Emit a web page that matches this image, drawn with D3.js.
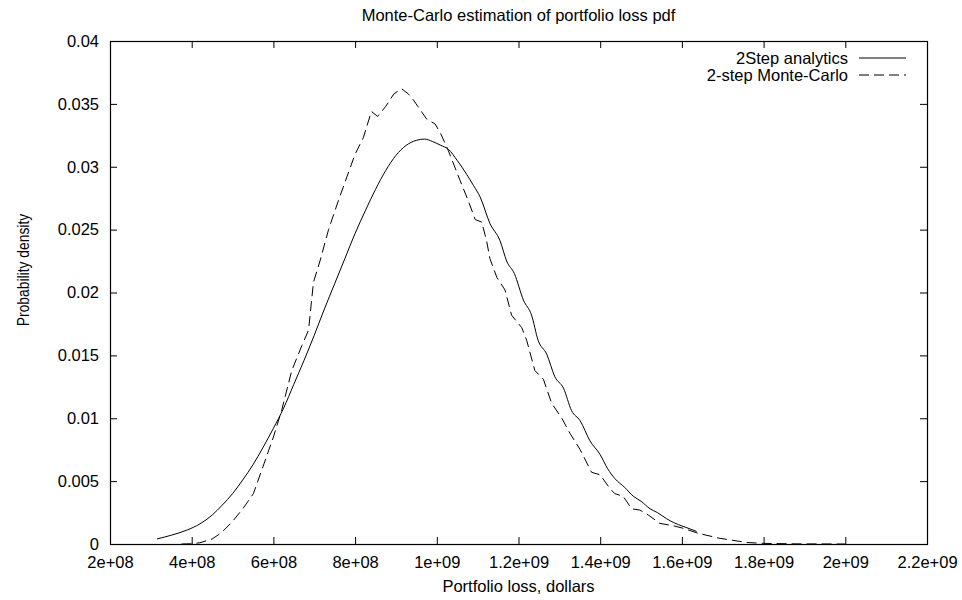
<!DOCTYPE html>
<html>
<head>
<meta charset="utf-8">
<script src="https://cdn.jsdelivr.net/npm/d3@7"></script>
<style>
  html, body { margin: 0; padding: 0; background: #fff; }
  svg { display: block; font-family: "Liberation Sans", Arial, Helvetica, sans-serif; }
</style>
</head>
<body>
<svg id="chart" width="962" height="600"></svg>
<script>
// ---- data ----
const analyticX = [3.15e8, 3.5e8, 3.88e8, 4.2e8, 4.5e8, 4.75e8, 5.0e8, 5.25e8, 5.5e8, 5.75e8, 6.0e8, 6.25e8, 6.5e8, 6.75e8, 7.0e8, 7.25e8, 7.5e8, 7.75e8, 8.0e8, 8.25e8, 8.5e8, 8.75e8, 9.0e8, 9.25e8, 9.5e8, 9.7e8, 9.9e8, 1.01e9, 1.028e9, 1.05e9, 1.073e9, 1.09e9, 1.106e9, 1.13e9, 1.155e9, 1.171e9, 1.19e9, 1.212e9, 1.232e9, 1.248e9, 1.269e9, 1.289e9, 1.31e9, 1.33e9, 1.351e9, 1.375e9, 1.4e9, 1.418e9, 1.436e9, 1.46e9, 1.481e9, 1.5e9, 1.522e9, 1.54e9, 1.563e9, 1.58e9, 1.603e9, 1.62e9, 1.636e9];
const analyticY = [0.0004, 0.0007, 0.0011, 0.0016, 0.0023, 0.0031, 0.0040, 0.0051, 0.0063, 0.0077, 0.0092, 0.0108, 0.0127, 0.0146, 0.0166, 0.0187, 0.0207, 0.0227, 0.0247, 0.0265, 0.0282, 0.0297, 0.0309, 0.0317, 0.0321, 0.0322, 0.0320, 0.0317, 0.0314, 0.0305, 0.0294, 0.0285, 0.0276, 0.0255, 0.0241, 0.0225, 0.0215, 0.0194, 0.0182, 0.0162, 0.0151, 0.0133, 0.0124, 0.0106, 0.0098, 0.0082, 0.0071, 0.0060, 0.0052, 0.0045, 0.0038, 0.0034, 0.0028, 0.0025, 0.0020, 0.0017, 0.0014, 0.0012, 0.0010];

const mcX = [3.75e8, 4.0e8, 4.2e8, 4.5e8, 4.73e8, 5.0e8, 5.25e8, 5.51e8, 5.75e8, 6.0e8, 6.2e8, 6.45e8, 6.7e8, 6.86e8, 6.98e8, 7.14e8, 7.35e8, 7.59e8, 7.8e8, 8.0e8, 8.2e8, 8.4e8, 8.55e8, 8.75e8, 8.95e8, 9.14e8, 9.3e8, 9.43e8, 9.6e8, 9.75e8, 9.96e8, 1.01e9, 1.028e9, 1.045e9, 1.057e9, 1.077e9, 1.094e9, 1.11e9, 1.122e9, 1.13e9, 1.147e9, 1.167e9, 1.183e9, 1.208e9, 1.22e9, 1.24e9, 1.261e9, 1.281e9, 1.306e9, 1.326e9, 1.351e9, 1.379e9, 1.4e9, 1.424e9, 1.436e9, 1.456e9, 1.477e9, 1.497e9, 1.518e9, 1.546e9, 1.579e9, 1.603e9, 1.64e9, 1.693e9, 1.759e9, 1.8e9, 1.88e9, 2.0e9];
const mcY = [0.0, 0.00002, 0.0001, 0.0004, 0.0009, 0.0018, 0.0028, 0.0040, 0.0062, 0.0085, 0.0106, 0.0138, 0.0158, 0.0170, 0.0208, 0.0225, 0.0250, 0.0273, 0.0292, 0.0310, 0.0323, 0.0344, 0.0340, 0.0348, 0.0358, 0.0362, 0.0358, 0.0353, 0.0345, 0.0338, 0.0334, 0.0326, 0.0313, 0.0299, 0.0289, 0.0273, 0.0258, 0.0256, 0.0241, 0.0227, 0.0212, 0.0202, 0.0182, 0.0172, 0.0162, 0.0138, 0.0131, 0.0112, 0.0100, 0.0088, 0.0075, 0.0057, 0.0055, 0.0044, 0.0040, 0.0038, 0.0028, 0.0027, 0.0023, 0.00164, 0.00145, 0.00125, 0.00085, 0.00045, 0.00012, 0.00005, 0.00001, 0.0];

const xTickValues = [2e8, 4e8, 6e8, 8e8, 1e9, 1.2e9, 1.4e9, 1.6e9, 1.8e9, 2e9, 2.2e9];
const xTickLabels = ["2e+08", "4e+08", "6e+08", "8e+08", "1e+09", "1.2e+09", "1.4e+09", "1.6e+09", "1.8e+09", "2e+09", "2.2e+09"];
const yTickValues = [0, 0.005, 0.01, 0.015, 0.02, 0.025, 0.03, 0.035, 0.04];
const yTickLabels = ["0", "0.005", "0.01", "0.015", "0.02", "0.025", "0.03", "0.035", "0.04"];

const seriesNames = ["2Step analytics", "2-step Monte-Carlo"];
const titleText = "Monte-Carlo estimation of portfolio loss pdf";
const xLabelText = "Portfolio loss, dollars";
const yLabelText = "Probability density";

// ---- layout ----
const L = 110, R = 927, T = 41, B = 544;
const FS = 16.5;
const DASH = "10,5";
const svg = d3.select("#chart");

const x = d3.scaleLinear().domain([2e8, 2.2e9]).range([L, R]);
const y = d3.scaleLinear().domain([0, 0.04]).range([B, T]);

// axes (ticks inward, mirrored)
const fmtX = (d) => xTickLabels[xTickValues.indexOf(d)];
const fmtY = (d) => yTickLabels[yTickValues.indexOf(d)];

function styleAxis(g) {
  g.select(".domain").remove();
  g.selectAll("line").attr("stroke", "#000").attr("stroke-width", 1);
  g.selectAll("text").attr("fill", "#000").style("font-size", FS + "px")
    .style("font-family", '"Liberation Sans", Arial, sans-serif');
}

svg.append("g").attr("transform", `translate(0,${B})`)
  .call(d3.axisBottom(x).tickValues(xTickValues).tickFormat(fmtX).tickSize(-7).tickPadding(12))
  .call(styleAxis);
svg.append("g").attr("transform", `translate(0,${T})`)
  .call(d3.axisTop(x).tickValues(xTickValues).tickFormat("").tickSize(-7))
  .call(styleAxis);
svg.append("g").attr("transform", `translate(${L},0)`)
  .call(d3.axisLeft(y).tickValues(yTickValues).tickFormat(fmtY).tickSize(-7).tickPadding(11))
  .call(styleAxis);
svg.append("g").attr("transform", `translate(${R},0)`)
  .call(d3.axisRight(y).tickValues(yTickValues).tickFormat("").tickSize(-7))
  .call(styleAxis);

// border
svg.append("rect")
  .attr("x", L + 0.5).attr("y", T + 0.5)
  .attr("width", R - L).attr("height", B - T)
  .attr("fill", "none").attr("stroke", "#000").attr("stroke-width", 1.2);

// curves
const analytic = analyticX.map((v, i) => [v, analyticY[i]]);
const mc = mcX.map((v, i) => [v, mcY[i]]);
const smoothLine = d3.line().x(d => x(d[0])).y(d => y(d[1])).curve(d3.curveMonotoneX);
const rawLine = d3.line().x(d => x(d[0])).y(d => y(d[1]));

svg.append("path").datum(analytic).attr("d", smoothLine)
  .attr("fill", "none").attr("stroke", "#000").attr("stroke-width", 1);
svg.append("path").datum(mc).attr("d", rawLine)
  .attr("fill", "none").attr("stroke", "#000").attr("stroke-width", 1)
  .attr("stroke-dasharray", DASH);

// legend
const legY = [58, 75];
const dashes = [null, DASH];
seriesNames.forEach((name, i) => {
  svg.append("text").attr("x", 848).attr("y", legY[i]).attr("dy", "0.35em")
    .attr("text-anchor", "end").style("font-size", FS + "px").attr("fill", "#000").text(name);
  svg.append("line").attr("x1", 859).attr("x2", 906).attr("y1", legY[i]).attr("y2", legY[i])
    .attr("stroke", "#000").attr("stroke-width", 1)
    .attr("stroke-dasharray", dashes[i]);
});

// title and axis labels
svg.append("text").attr("x", (L + R) / 2).attr("y", 21).attr("text-anchor", "middle")
  .style("font-size", FS + "px").attr("fill", "#000").text(titleText);
svg.append("text").attr("x", (L + R) / 2).attr("y", 592).attr("text-anchor", "middle")
  .style("font-size", FS + "px").attr("fill", "#000").text(xLabelText);
svg.append("text").attr("transform", "translate(29,270) rotate(-90) scale(0.84,1)").attr("text-anchor", "middle")
  .style("font-size", FS + "px").attr("fill", "#000").text(yLabelText);
</script>
</body>
</html>
